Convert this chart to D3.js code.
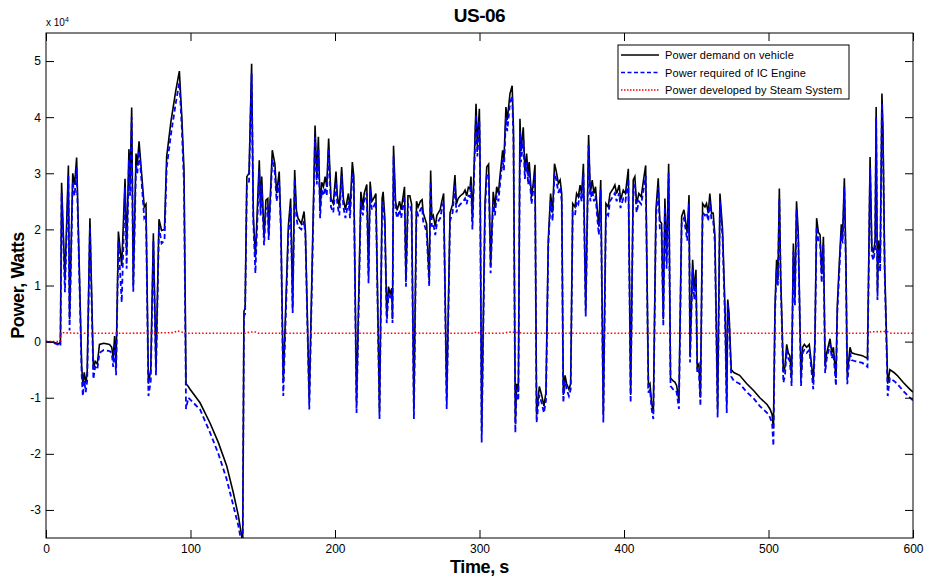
<!DOCTYPE html>
<meta charset="utf-8">
<head>
<style>
  body { margin: 0; background: #fff; }
  text { font-family: "Liberation Sans", Arial, sans-serif; }
</style>
</head>
<body>
  <script src="https://cdn.jsdelivr.net/npm/d3@7"></script>
  <script>
    // values, power in units of 10^4 W
    var time = [0, 5, 9, 10, 10.8, 13.1, 15.5, 16.3, 18.5, 19.8, 21.2, 24.7, 25.5, 26.5, 27.5, 28.5, 30.4, 32.8, 34, 35.5,
      37, 40, 44, 45.5, 46.5, 47.5, 48.5, 50.1, 52.4, 54.7, 55.8, 57.4, 58.2, 59.3, 60.4, 62.3, 63.2, 64.4, 66, 68,
      69.2, 70.9, 72.5, 74.3, 76.1, 78.2, 80, 82, 83.5, 86.5, 89.8, 92.3, 94, 95.5, 96.9, 98.5, 99.7, 106.6, 113.5, 119.3,
      125, 129.6, 133.1, 135.4, 136.1, 137, 137.8, 139, 140.5, 142.3, 143.5, 144.9, 147.6, 148.5, 149.3, 150.9, 152.2, 153.5, 154.1, 156.6,
      158.4, 159.6, 161.4, 162.6, 164.2, 167.7, 169.3, 170.7, 172.1, 173.3, 174.4, 176.7, 178.6, 179.5, 182.2, 186.2, 187.4, 188.5, 189.7, 190.8,
      192, 193.2, 194.3, 195.6, 197.2, 198.8, 200.7, 201.6, 203, 204.6, 205.8, 207.2, 209.3, 210.4, 212, 213, 214.9, 217.9, 219.3, 220.2,
      222, 223.2, 224.3, 225.5, 226.7, 228.3, 230.8, 232.6, 233.3, 234.5, 235.8, 237, 238.2, 239.3, 239.8, 240.5, 241.9, 243, 244.7, 245.8,
      248.1, 249.1, 250.5, 251.8, 253, 254.6, 256.4, 257.5, 259.1, 260.3, 261, 262.2, 263.4, 265.2, 266.2, 267, 268, 269.4, 270.5, 271.6,
      272.8, 273.9, 275.2, 277.3, 279.6, 281.4, 283, 284, 285.2, 286.8, 288.8, 290, 291.1, 292.3, 293.4, 294.1, 295.1, 297.6, 298.5, 299.9,
      300.3, 301.5, 303.8, 305, 306.3, 307.7, 309.5, 310.7, 311.9, 313.1, 314, 316, 316.9, 318.3, 319.2, 321.1, 322.6, 323.5, 324.8, 325.7,
      326.9, 328, 328.7, 330.3, 331.4, 332.6, 333.7, 334.4, 336, 337.2, 338.4, 339.5, 341.4, 343, 344.6, 346, 347.6, 349.2, 350.6, 351.9,
      353, 354.6, 355.8, 356.9, 358, 359.2, 360.3, 361.9, 363.1, 364.5, 366.1, 367.2, 368.4, 369.6, 370.7, 371.9, 373.5, 375.5, 376.7, 378,
      379.2, 380.3, 381.5, 382.6, 383.9, 385.7, 387.5, 389.1, 390.3, 392.6, 393.7, 394.9, 396.7, 397.6, 399.5, 401, 403, 404.6, 406.4, 407.5,
      408.7, 410.3, 411.9, 413.5, 415, 416.9, 418, 419.1, 420.3, 422.1, 423.7, 424.8, 426, 427.2, 428.3, 429.5, 430.9, 432.2, 434, 435.2,
      436.4, 438, 439.9, 441.5, 442.9, 443.8, 445, 445.7, 447.5, 448.6, 449.8, 450.7, 451.8, 452.9, 454.4, 456, 457.1, 458.3, 459.4, 460.6,
      461.7, 462.9, 464.8, 466.4, 468.2, 470, 471.1, 471.8, 472.7, 474.2, 476, 480, 485, 490, 494, 499, 501, 502.5, 503.4, 504.5,
      505.6, 506.5, 507.5, 508.4, 510.3, 511.4, 512.6, 513.7, 514.8, 516, 517.2, 518.3, 519.4, 520.6, 522.5, 523.6, 524.8, 526.4, 528.2, 529.3,
      531, 532.1, 533.3, 534.5, 535.7, 536.8, 538, 539.2, 540.3, 542.6, 543.8, 544.9, 546.7, 547.6, 549, 550.4, 551.3, 552.5, 553.6, 554.5,
      556.4, 557.5, 560, 565, 568.5, 570.3, 571.5, 572.6, 573.8, 574.5, 575.4, 576.1, 577.3, 578.5, 579.2, 580.4, 582.5, 584, 586.8, 589,
      593.3, 597.9, 600];

    var demand = [0, -0.01, -0.04, 0, 2.83, 1.1, 3.14, 0.4, 3, 2.8, 3.28, -0.45, -0.75, -0.55, -0.75, -0.55, 2.2, -0.5, -0.35, -0.4,
      -0.05, -0.03, -0.05, -0.1, -0.3, 0.1, -0.45, 1.96, 1.35, 2.9, 1.6, 3.43, 2.8, 4.17, 1, 3.35, 3.15, 3.57, 3.05, 2.4,
      2.45, -0.75, -0.5, 1.93, -0.45, 2.18, 1.98, 2, 3.3, 3.93, 4.47, 4.82, 4, 3.06, -0.75, -0.8, -0.85, -1.09, -1.45, -1.8,
      -2.21, -2.69, -3.1, -3.46, -3.7, 0.54, 0.6, 2.94, 3, 4.95, 2.23, 1.5, 3.23, 2.4, 2.94, 1.85, 2.52, 2.55, 1.9, 3.41,
      3.17, 2.64, 3.03, 2, -0.73, 2.05, 2.55, 0.6, 3.06, 2.34, 2.2, 2.1, 2.32, 1.99, -1.05, 3.85, 2.94, 3.65, 2.34, 2.84,
      2.76, 2.94, 2.76, 3.62, 2.55, 2.46, 3.03, 2.6, 2.4, 3.11, 2.55, 2.35, 2.64, 2.35, 3.2, 2.95, -1.1, 2.67, 2.4, 2.64,
      2.8, 1.2, 2.85, 2.5, 2.55, 2.64, -1.25, 2.55, 2.67, 2.2, 0.45, 0.98, 0.85, 0.95, 0.4, 3.49, 2.5, 2.34, 2.5, 2.35,
      2.76, 1.1, 2.6, 2.6, 2.45, -1.2, 2.5, 2.4, 2.5, 2.53, 2.3, 2.2, 2.1, 1.1, 3.05, 2.2, 2.25, 2.05, 2.25, 2.3,
      2.35, 2.5, 2.64, -1.05, 2.29, 2.45, 2.97, 2.45, 2.55, 2.6, 2.64, 2.7, 2.6, 2.75, 2.72, 2.94, 2.15, 4.24, 3.47, 4.15,
      3.47, -1.6, 2.46, 3.11, 3.16, 1.35, 2.67, 2.4, 2.76, 2.64, 2.9, 3.41, 3.23, 4.18, 3.95, 4.42, 4.56, 3.8, -1.45, -0.75,
      -0.9, 3.97, 3.4, 3.82, 3.05, 3.35, 2.95, 3.2, 2.58, 2.82, 3.15, -1.3, -0.8, -0.95, -1.15, -0.9, 1.81, 2.64, 2.3, 3.17,
      3.05, 2.82, 2.88, 2.64, -0.95, -0.6, -0.75, -0.85, -0.75, 2.46, 2.4, 2.64, 2.58, 2.79, 2.64, 3.17, 0.55, 3.68, 2.64, 2.88,
      2.64, 2.76, 2.35, 2.05, 2.88, -1.3, 2.46, 2.4, 2.64, 2.73, 2.79, 2.64, 2.79, 2.52, 2.7, 2.64, 3.08, -0.95, 2.88, 2.94,
      2.46, 2.64, 2.58, 2.88, 3.14, -0.8, -0.75, -1.1, -1.25, 2.35, 2.91, 2.15, 2.11, 0.4, 2.55, 1.45, 3.17, -0.65, -0.7, -0.72,
      -0.78, -1.05, 2.23, 2.35, 2.1, 1.93, 2.61, -0.25, 1.46, 0.9, 1.28, -0.45, -0.4, -1, 2.46, 2.4, 2.46, 2.29, 2.64, 2.29,
      2.29, 1.9, -1.2, 2.64, 2, 0.5, -1.1, 0.75, 0.5, -0.5, -0.55, -0.6, -0.75, -0.88, -1, -1.12, -1.2, -1.3, -1.55, 0.63,
      1.46, 1.1, 2.73, 1.2, -0.55, -0.45, -0.05, -0.2, -0.25, -0.65, 1.75, 0.8, 2.5, 1.93, -0.65, -0.1, -0.05, -0.1, -0.05, -0.3,
      -0.7, 0, 2.2, 1.95, 1.9, 1.2, 1.87, -0.45, -0.2, 0.05, -0.2, -0.1, -0.65, 0.63, 1.4, 2.09, 1.9, 2.91, 1.4, -0.6,
      -0.1, -0.2, -0.22, -0.25, -0.3, 3.29, 1.7, 1.58, 1.8, 4.18, 0.9, 1.8, 1.4, 4.42, 3.8, 1.35, -0.75, -0.5, -0.55, -0.6,
      -0.73, -0.85, -0.9];

    var engine = [0, -0.02, -0.06, -0.08, 2.65, 0.88, 2.95, 0.2, 2.85, 2.6, 3.1, -0.6, -0.97, -0.7, -0.9, -0.7, 2.05, -0.67, -0.45, -0.5,
      -0.2, -0.15, -0.17, -0.2, -0.45, -0.05, -0.6, 1.8, 0.7, 2.75, 1.3, 3.25, 2.6, 4, 0.89, 3.15, 3, 3.4, 2.9, 2.2,
      2.25, -0.97, -0.7, 1.8, -0.6, 2.05, 1.75, 1.8, 3.1, 3.7, 4.25, 4.62, 3.8, 2.8, -1.2, -1, -1.03, -1.21, -1.62, -2,
      -2.45, -2.92, -3.28, -3.6, -3.75, 0.45, 0.5, 2.8, 2.85, 4.78, 2.1, 1.22, 3.05, 2.25, 2.8, 1.72, 2.35, 2.4, 1.81, 3.25,
      3, 2.5, 2.85, 1.93, -0.97, 1.9, 2.4, 0.51, 2.9, 2.2, 2.05, 2, 2.15, 1.9, -1.21, 3.65, 2.8, 3.45, 2.2, 2.7,
      2.6, 2.75, 2.6, 3.45, 2.4, 2.3, 2.85, 2.45, 2.25, 2.95, 2.4, 2.2, 2.5, 2.2, 3, 2.8, -1.27, 2.5, 2.25, 2.5,
      2.65, 1.04, 2.7, 2.35, 2.4, 2.5, -1.38, 2.4, 2.5, 2.05, 0.33, 0.85, 0.75, 0.85, 0.33, 3.3, 2.35, 2.2, 2.35, 2.2,
      2.6, 0.98, 2.45, 2.45, 2.3, -1.38, 2.35, 2.25, 2.35, 2.4, 2.15, 2.05, 1.95, 0.98, 2.85, 2.05, 2.1, 1.9, 2.1, 2.15,
      2.2, 2.35, 2.5, -1.2, 2.15, 2.3, 2.8, 2.3, 2.4, 2.45, 2.5, 2.55, 2.45, 2.6, 2.58, 2.8, 2, 4.05, 3.3, 3.95,
      3.3, -1.8, 2.3, 2.95, 3, 1.22, 2.5, 2.25, 2.6, 2.5, 2.75, 3.25, 3.05, 4, 3.75, 4.25, 4.38, 3.6, -1.62, -0.85,
      -1.05, 3.75, 3.2, 3.6, 2.9, 3.2, 2.8, 3.05, 2.45, 2.7, 3, -1.44, -0.95, -1.09, -1.27, -1.05, 1.7, 2.5, 2.15, 3,
      2.9, 2.65, 2.75, 2.5, -1.09, -0.7, -0.85, -0.97, -0.85, 2.3, 2.25, 2.5, 2.45, 2.65, 2.5, 3, 0.45, 3.5, 2.5, 2.7,
      2.5, 2.6, 2.2, 1.9, 2.7, -1.44, 2.3, 2.25, 2.5, 2.6, 2.65, 2.5, 2.65, 2.38, 2.55, 2.5, 2.9, -1.09, 2.7, 2.8,
      2.3, 2.5, 2.45, 2.7, 2.95, -0.91, -0.85, -1.2, -1.38, 2.2, 2.75, 2, 1.95, 0.27, 2.4, 1.3, 3, -0.79, -0.85, -0.85,
      -0.9, -1.2, 2.1, 2.2, 1.95, 1.8, 2.45, -0.37, 1.3, 0.75, 1.15, -0.56, -0.5, -1.15, 2.3, 2.25, 2.3, 2.15, 2.5, 2.15,
      2.15, 1.75, -1.35, 2.5, 1.85, 0.3, -1.27, 0.69, 0.4, -0.62, -0.7, -0.75, -0.9, -1.02, -1.15, -1.27, -1.35, -1.45, -1.86, 0.5,
      1.3, 1, 2.55, 1.1, -0.73, -0.6, -0.15, -0.3, -0.35, -0.79, 1.6, 0.65, 2.35, 1.8, -0.79, -0.2, -0.15, -0.2, -0.15, -0.4,
      -0.85, -0.1, 2.05, 1.8, 1.75, 1.05, 1.72, -0.56, -0.3, -0.05, -0.3, -0.2, -0.79, 0.5, 1.25, 1.95, 1.75, 2.75, 1.25, -0.76,
      -0.2, -0.33, -0.35, -0.38, -0.45, 3.1, 1.55, 1.45, 1.65, 4, 0.74, 1.65, 1.25, 4.25, 3.6, 1.22, -0.97, -0.65, -0.7, -0.75,
      -0.88, -1, -1.05];

    var steamTime = [0, 9.5, 10.5, 20, 60, 88, 91, 94, 96, 138, 141, 145, 147, 296, 298, 300, 317, 320, 325, 330, 568, 571, 582, 585, 600];
    var steam = [0, 0, 0.16, 0.15, 0.15, 0.16, 0.19, 0.17, 0.15, 0.15, 0.17, 0.17, 0.15, 0.15, 0.17, 0.15, 0.15, 0.17, 0.165, 0.15, 0.15, 0.175, 0.18, 0.15, 0.15];

    var xTicks = [0, 100, 200, 300, 400, 500, 600];
    var yTicks = [-3, -2, -1, 0, 1, 2, 3, 4, 5];
    var legendLabels = ["Power demand on vehicle", "Power required of IC Engine", "Power developed by Steam System"];

    var margin = { top: 33, right: 13, bottom: 40, left: 46 },
      W = 926, H = 578,
      width = W - margin.left - margin.right,
      height = H - margin.top - margin.bottom;

    var svg = d3.select("body").append("svg")
      .attr("width", W)
      .attr("height", H);

    var g = svg.append("g")
      .attr("transform", "translate(" + margin.left + "," + margin.top + ")");

    var x = d3.scaleLinear().domain([0, 600]).range([0, width]);
    var y = d3.scaleLinear().domain([-3.5, 5.5]).range([height, 0]);

    g.append("clipPath").attr("id", "clip")
      .append("rect").attr("width", width).attr("height", height);

    var lineOf = function (ts, vs) {
      return d3.line()
        .x(function (i) { return x(ts[i]); })
        .y(function (i) { return y(vs[i]); })(d3.range(ts.length));
    };

    var plot = g.append("g").attr("clip-path", "url(#clip)");

    plot.append("path")
      .attr("d", lineOf(time, demand))
      .style("fill", "none")
      .style("stroke", "#000")
      .style("stroke-width", 1.6);

    plot.append("path")
      .attr("d", lineOf(time, engine))
      .style("fill", "none")
      .style("stroke", "#0000ff")
      .style("stroke-width", 1.8)
      .style("stroke-dasharray", "5,3");

    plot.append("path")
      .attr("d", lineOf(steamTime, steam))
      .style("fill", "none")
      .style("stroke", "#ff0000")
      .style("stroke-width", 1.6)
      .style("stroke-dasharray", "1.5,2");

    // axes, ticks inward on all four sides
    var fmt = function (d) { return d; };
    g.append("g").attr("transform", "translate(0," + height + ")")
      .call(d3.axisBottom(x).tickValues(xTicks).tickSizeInner(-8).tickSizeOuter(0).tickPadding(6).tickFormat(fmt));
    g.append("g")
      .call(d3.axisTop(x).tickValues(xTicks).tickSizeInner(-8).tickSizeOuter(0).tickFormat(""));
    g.append("g")
      .call(d3.axisLeft(y).tickValues(yTicks).tickSizeInner(-8).tickSizeOuter(0).tickPadding(5).tickFormat(fmt));
    g.append("g").attr("transform", "translate(" + width + ",0)")
      .call(d3.axisRight(y).tickValues(yTicks).tickSizeInner(-8).tickSizeOuter(0).tickFormat(""));

    g.selectAll(".domain").remove();
    g.selectAll(".tick line").style("stroke", "#000");
    g.selectAll(".tick text").style("font-size", "12px").style("fill", "#000")
      .style("font-family", "'Liberation Sans', Arial, sans-serif");

    g.append("rect")
      .attr("width", width).attr("height", height)
      .style("fill", "none").style("stroke", "#000").style("stroke-width", 1);

    // exponent label
    var ex = g.append("text").attr("x", 0).attr("y", -7).style("font-size", "10px");
    ex.append("tspan").text("x 10");
    ex.append("tspan").attr("dy", -4).style("font-size", "7px").text("4");

    // titles
    svg.append("text").attr("x", margin.left + width / 2).attr("y", 22)
      .attr("text-anchor", "middle").style("font-size", "19px").style("font-weight", "bold")
      .style("letter-spacing", "-0.5px").text("US-06");
    svg.append("text").attr("x", margin.left + width / 2).attr("y", 573)
      .attr("text-anchor", "middle").style("font-size", "18px").style("font-weight", "bold")
      .style("letter-spacing", "-0.4px").text("Time, s");
    svg.append("text")
      .attr("transform", "translate(24," + (margin.top + height / 2) + ") rotate(-90)")
      .attr("text-anchor", "middle").style("font-size", "18px").style("font-weight", "bold")
      .style("letter-spacing", "-0.4px").text("Power, Watts");

    // legend
    var lg = svg.append("g").attr("transform", "translate(618,45)");
    lg.append("rect").attr("width", 231).attr("height", 54)
      .style("fill", "#fff").style("stroke", "#000").style("stroke-width", 1);
    var styles = [
      { c: "#000", w: 1.4, dash: null },
      { c: "#0000ff", w: 1.6, dash: "4,2.5" },
      { c: "#ff0000", w: 1.4, dash: "1.5,1.5" }
    ];
    legendLabels.forEach(function (lab, i) {
      var yy = 10 + i * 17.5;
      lg.append("line").attr("x1", 3).attr("x2", 41).attr("y1", yy).attr("y2", yy)
        .style("stroke", styles[i].c).style("stroke-width", styles[i].w)
        .style("stroke-dasharray", styles[i].dash);
      lg.append("text").attr("x", 47).attr("y", yy + 4).style("font-size", "11px")
        .style("letter-spacing", "0.1px").text(lab);
    });
  </script>
</body>
</html>
